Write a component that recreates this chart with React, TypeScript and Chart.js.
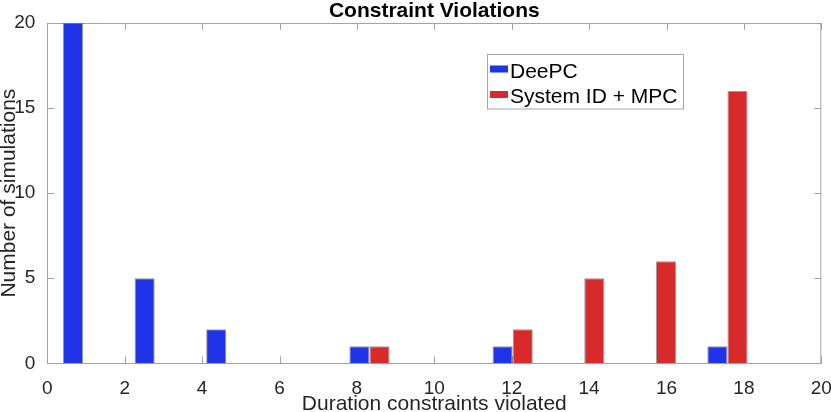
import { useEffect, useRef } from 'react'
import { Chart, registerables } from 'chart.js'

Chart.register(...registerables)

// histogram bin centres (x) and counts per method
const binCenters = [0.925, 2.775, 4.625, 6.475, 8.325, 10.175, 12.025, 13.875, 15.725, 17.575]
const deepcCounts = [20, 5, 2, 0, 1, 0, 1, 0, 0, 1]
const sysIdCounts = [0, 0, 0, 0, 1, 0, 2, 5, 6, 16]
const seriesLabels = ['DeePC', 'System ID + MPC']
const seriesColors = ['#1f33e8', '#d92a2b']
const xTicks = [0, 2, 4, 6, 8, 10, 12, 14, 16, 18, 20]
const yTicks = [0, 5, 10, 15, 20]

const FONT = '"Liberation Sans", Arial, Helvetica, sans-serif'
const AXIS = '#a3a3a3'
const TEXT = '#262626'

// matlab-style box + inward ticks, painted underneath the bars
function drawFrame(chart: any) {
  const { ctx, chartArea: a, scales } = chart
  ctx.save()
  ctx.globalCompositeOperation = 'destination-over'
  ctx.strokeStyle = AXIS
  ctx.lineWidth = 1
  ctx.beginPath()
  ctx.moveTo(a.left, a.top + 0.5)
  ctx.lineTo(a.right, a.top + 0.5)
  ctx.moveTo(a.right - 0.5, a.top)
  ctx.lineTo(a.right - 0.5, a.bottom)
  const len = 7
  for (const t of xTicks) {
    const px = Math.round(scales.x.getPixelForValue(t)) + 0.5
    ctx.moveTo(px, a.bottom)
    ctx.lineTo(px, a.bottom - len)
    ctx.moveTo(px, a.top)
    ctx.lineTo(px, a.top + len)
  }
  for (const t of yTicks) {
    const py = Math.round(scales.y.getPixelForValue(t)) + 0.5
    ctx.moveTo(a.left, py)
    ctx.lineTo(a.left + len, py)
    ctx.moveTo(a.right, py)
    ctx.lineTo(a.right - len, py)
  }
  ctx.stroke()
  ctx.restore()
}

const frame = {
  id: 'frame',
  afterDatasetsDraw(chart: any) {
    drawFrame(chart)
  },
  afterDraw(chart: any) {
    const { ctx, chartArea: a } = chart
    ctx.save()
    // title
    ctx.fillStyle = '#000'
    ctx.font = `bold 21px ${FONT}`
    ctx.textAlign = 'center'
    ctx.textBaseline = 'alphabetic'
    ctx.fillText('Constraint Violations', (a.left + a.right) / 2, 16.7)
    // legend
    const bx = 487.5, by = 54.5, bw = 196, bh = 54.5
    ctx.fillStyle = '#fff'
    ctx.fillRect(bx, by, bw, bh)
    ctx.strokeStyle = '#a6a6a6'
    ctx.lineWidth = 1
    ctx.strokeRect(bx, by, bw, bh)
    ctx.font = `21px ${FONT}`
    ctx.textAlign = 'left'
    chart.data.datasets.forEach((ds: any, i: number) => {
      const base = 77.5 + i * 25.5
      ctx.fillStyle = ds.backgroundColor
      ctx.fillRect(490, base - 12, 18, 7)
      ctx.fillStyle = '#000'
      ctx.fillText(ds.label, 510, base)
    })
    ctx.restore()
  },
}

export default function App() {
  const ref = useRef<HTMLCanvasElement>(null)
  useEffect(() => {
    document.body.style.margin = '0'
    if (!ref.current) return
    const series = [deepcCounts, sysIdCounts]
    const chart = new Chart(ref.current, {
      type: 'bar',
      data: {
        datasets: series.map((vals, i) => ({
          label: seriesLabels[i],
          data: vals.map((v, j) => ({ x: binCenters[j], y: v })),
          backgroundColor: seriesColors[i],
          borderColor: 'rgba(70,70,70,0.55)',
          borderWidth: 1,
          categoryPercentage: 0.562,
          barPercentage: 1,
        })),
      },
      options: {
        responsive: false,
        animation: false,
        layout: { padding: { top: 23, right: 9.7, left: 0, bottom: 0 } },
        plugins: { legend: { display: false }, tooltip: { enabled: false }, title: { display: false } },
        scales: {
          x: {
            type: 'linear',
            min: 0,
            max: 20,
            offset: false,
            grid: { display: false },
            border: { display: true, color: AXIS },
            afterFit: (s: any) => {
              s.height = 48.7
              s.paddingLeft = 0
              s.paddingRight = 0
            },
            afterBuildTicks: (s: any) => { s.ticks = xTicks.map(v => ({ value: v })) },
            ticks: { color: TEXT, padding: 6, maxRotation: 0, autoSkip: false, font: { family: FONT, size: 19 } },
            title: {
              display: true,
              text: 'Duration constraints violated',
              color: TEXT,
              padding: 0,
              font: { family: FONT, size: 21, lineHeight: 0.7 },
            },
          },
          y: {
            min: 0,
            max: 20,
            grid: { display: false },
            border: { display: true, color: AXIS },
            afterFit: (s: any) => {
              s.width = 47.3
              s.paddingTop = 0
              s.paddingBottom = 0
            },
            afterBuildTicks: (s: any) => { s.ticks = yTicks.map(v => ({ value: v })) },
            ticks: { color: TEXT, padding: 4, font: { family: FONT, size: 19 } },
            title: {
              display: true,
              text: 'Number of simulations',
              color: TEXT,
              padding: 0,
              font: { family: FONT, size: 21, lineHeight: 0.83 },
            },
          },
        },
      },
      plugins: [frame],
    })
    return () => chart.destroy()
  }, [])
  return (
    <div style={{ width: 831, height: 412 }}>
      <canvas ref={ref} width={831} height={412} />
    </div>
  )
}
